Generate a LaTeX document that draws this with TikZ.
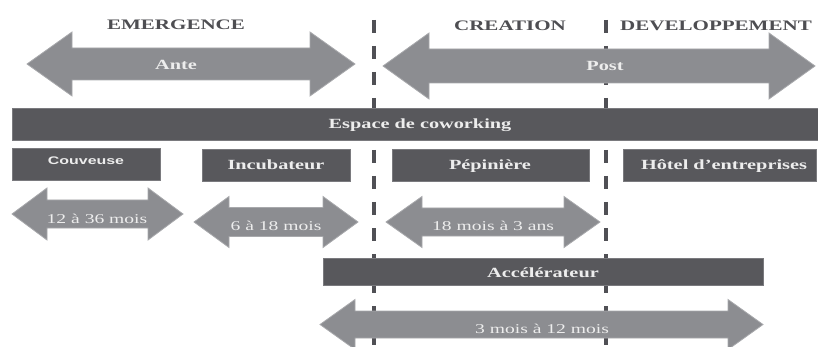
\documentclass[tikz,border=0pt]{standalone}
\usepackage{fontspec}
\newfontfamily\wserif[FakeStretch=1.45]{Liberation Serif}
\newfontfamily\wsans[FakeStretch=1.45]{Liberation Sans}
\definecolor{bargray}{HTML}{58585C}
\definecolor{baredge}{HTML}{7A7A7E}
\definecolor{arrowgray}{HTML}{8C8D91}
\definecolor{arrowedge}{HTML}{A8A9AC}
\definecolor{headgray}{HTML}{4E4E52}
\definecolor{dashgray}{HTML}{505055}
\definecolor{lighttext}{HTML}{EDEDED}
\newcommand\dblarrow[7]{% name, x1, x2, yc, shafthalf, headhalf, headlen
  \draw[arrowshape] (#2,#4) -- (#2+#7,#4-#6) -- (#2+#7,#4-#5) -- (#3-#7,#4-#5) -- (#3-#7,#4-#6) -- (#3,#4)
    -- (#3-#7,#4+#6) -- (#3-#7,#4+#5) -- (#2+#7,#4+#5) -- (#2+#7,#4+#6) -- cycle;
  \coordinate (#1) at ({(#2+#3)/2},#4);}
\begin{document}
\begin{tikzpicture}[x=1pt,y=-1pt,
  heading/.style={anchor=base,text=headgray,font=\wserif\bfseries\fontsize{14.5}{16}\selectfont,inner sep=0pt},
  barlabel/.style={anchor=base,text=lighttext,font=\wserif\bfseries\fontsize{14}{16}\selectfont,inner sep=0pt},
  arrowlabel/.style={anchor=base,text=lighttext,font=\wserif\fontsize{13.5}{16}\selectfont,inner sep=0pt},
  barshape/.style={fill=bargray,draw=baredge,line width=0.6pt},
  arrowshape/.style={fill=arrowgray,draw=arrowedge,line width=0.8pt},
  phaseline/.style={draw=dashgray,line width=4pt,dash pattern=on 13pt off 13pt}]
\useasboundingbox (0,0) rectangle (818,347);
% phase separators
\coordinate (s1top) at (374,20); \coordinate (s1bot) at (374,350);
\coordinate (s2top) at (606,20); \coordinate (s2bot) at (606,350);
\draw[phaseline] (s1top) -- (s1bot);
\draw[phaseline] (s2top) -- (s2bot);
% headings
\node[heading] (emer) at (176,30) {EMERGENCE};
\node[heading] (crea) at (510,31) {CREATION};
\node[heading] (dev) at (716,31) {DEVELOPPEMENT};
% big arrows
\dblarrow{ante}{27}{355}{64}{16}{32}{45}
\node[barlabel] (antel) at (176,70) {Ante};
\dblarrow{post}{383}{815}{66}{17}{33}{46}
\node[barlabel] (postl) at (605,71) {Post};
% coworking
\draw[barshape] (12,108) rectangle (818,140);
\node[barlabel] (cowork) at (420,129) {Espace de coworking};
% structures
\draw[barshape] (12,148) rectangle (160,180);
\node[anchor=base,text=lighttext,font=\wsans\bfseries\fontsize{11}{13}\selectfont,inner sep=0pt] (couv) at (86,165) {Couveuse};
\draw[barshape] (202,149) rectangle (350,181);
\node[barlabel] (incub) at (276,170) {Incubateur};
\draw[barshape] (392,149) rectangle (589,181);
\node[barlabel] (pepin) at (490,170) {Pépinière};
\draw[barshape] (623,149) rectangle (816,181);
\node[barlabel] (hotel) at (724,170) {Hôtel d’entreprises};
% duration arrows
\dblarrow{d1}{12}{183}{214}{14}{26}{35}
\node[arrowlabel] (d1l) at (97,223) {12 à 36 mois};
\dblarrow{d2}{194}{358}{222}{14.5}{25.5}{35}
\node[arrowlabel] (d2l) at (276,230) {6 à 18 mois};
\dblarrow{d3}{386}{600}{222}{14}{25.5}{36}
\node[arrowlabel] (d3l) at (493,230) {18 mois à 3 ans};
% accelerator
\draw[barshape] (323,258) rectangle (763,285);
\node[barlabel] (accel) at (543,277) {Accélérateur};
\dblarrow{d4}{320}{763}{324.5}{13.5}{25}{35}
\node[arrowlabel] (d4l) at (542,333) {3 mois à 12 mois};
\end{tikzpicture}
\end{document}
